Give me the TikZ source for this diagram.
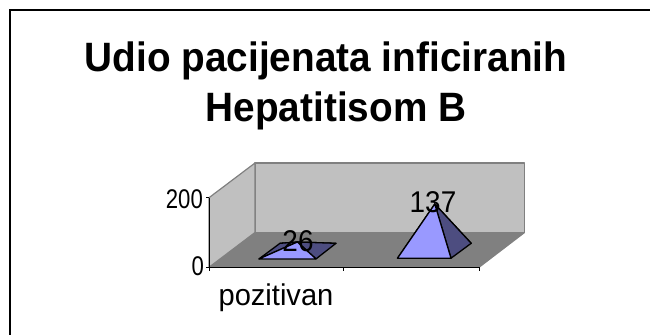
\documentclass[tikz,border=0pt]{standalone}
\usepackage{fontspec}
\setmainfont{Liberation Sans}
\definecolor{wallgray}{RGB}{192,192,192}
\definecolor{floorgray}{RGB}{128,128,128}
\definecolor{edgegray}{RGB}{128,128,128}
\definecolor{pyrlight}{RGB}{153,153,255}
\definecolor{pyrdark}{RGB}{77,77,128}
\tikzset{
  wall/.style={fill=wallgray, draw=edgegray, line width=1.2pt, line join=round},
  floorface/.style={fill=floorgray, draw=none},
  axisline/.style={draw=black, line width=0.9pt},
  facelight/.style={fill=pyrlight, draw=black, line width=1.3pt, line join=round},
  facedark/.style={fill=pyrdark, draw=black, line width=1.3pt, line join=round},
  titletext/.style={font=\bfseries\fontsize{41}{47}\selectfont, inner sep=0pt, anchor=base, xscale=0.945},
  axislabel/.style={font=\fontsize{27}{30}\selectfont, inner sep=0pt, anchor=east, xscale=0.82},
  catlabel/.style={font=\fontsize{30}{34}\selectfont, inner sep=0pt, anchor=base, xscale=0.97},
  datalabel/.style={font=\fontsize{30}{34}\selectfont, inner sep=0pt, anchor=center, xscale=0.93},
}
\begin{document}
\begin{tikzpicture}[x=1pt, y=-1pt]
\useasboundingbox (0,0) rectangle (650,335);
% frame (top and left only visible)
\draw[line width=2pt, black] (650,10) -- (10,10) -- (10,335);
% title
\node[titletext] (t1) at (326,71) {Udio pacijenata inficiranih};
\node[titletext] (t2) at (336,121) {Hepatitisom B};
% 3D box coordinates
\coordinate (ftl) at (209,197.7);
\coordinate (fbl) at (209,267.3);
\coordinate (fbr) at (479,267.3);
\coordinate (btl) at (255,163);
\coordinate (bbl) at (255,232.5);
\coordinate (btr) at (524.5,163);
\coordinate (bbr) at (524.5,232.5);
% back wall
\draw[wall] (btl) rectangle (bbr);
% left wall
\draw[wall] (fbl) -- (ftl) -- (btl) -- (bbl) -- cycle;
% floor
\fill[floorgray] (fbl) -- (fbr) -- (bbr) -- (bbl) -- cycle;
\draw[edgegray, line width=1.2pt] (fbr) -- (bbr);
% axes
\draw[axisline] (ftl) -- (fbl) -- (fbr);
\draw[axisline] (ftl) -- ++(-3,0);
\draw[axisline] (fbl) -- ++(-3,0);
\coordinate (tk1) at (343.5,267.3);
\draw[axisline] (tk1) -- ++(0,4);
\draw[axisline] (fbr) -- ++(0,4);
\draw[axisline] (fbl) -- ++(0,4);
% axis labels
\node[axislabel] (y200) at (203,199) {200};
\node[axislabel] (y0) at (204,266.5) {0};
\node[catlabel] (cat1) at (276,305) {pozitivan};
% pyramid 1 (26)
\coordinate (p1fl) at (259,258.9);
\coordinate (p1fr) at (316,258.9);
\coordinate (p1bl) at (280,243.3);
\coordinate (p1br) at (336,243.3);
\coordinate (p1a) at (297.4,242);
\draw[facedark] (p1bl) -- (p1br) -- (p1a) -- cycle;
\draw[facedark] (p1fl) -- (p1bl) -- (p1a) -- cycle;
\draw[facedark] (p1fr) -- (p1br) -- (p1a) -- cycle;
\draw[facelight] (p1fl) -- (p1fr) -- (p1a) -- cycle;
% pyramid 2 (137)
\coordinate (p2fl) at (397.5,258.2);
\coordinate (p2fr) at (451,258.2);
\coordinate (p2bl) at (417.5,243.3);
\coordinate (p2br) at (471.2,243.3);
\coordinate (p2a) at (434.8,204);
\draw[facedark] (p2bl) -- (p2br) -- (p2a) -- cycle;
\draw[facedark] (p2fl) -- (p2bl) -- (p2a) -- cycle;
\draw[facedark] (p2fr) -- (p2br) -- (p2a) -- cycle;
\draw[facelight] (p2fl) -- (p2fr) -- (p2a) -- cycle;
% data labels
\node[datalabel] (d1) at (298,241) {26};
\node[datalabel] (d2) at (433,202.5) {137};
\end{tikzpicture}
\end{document}
